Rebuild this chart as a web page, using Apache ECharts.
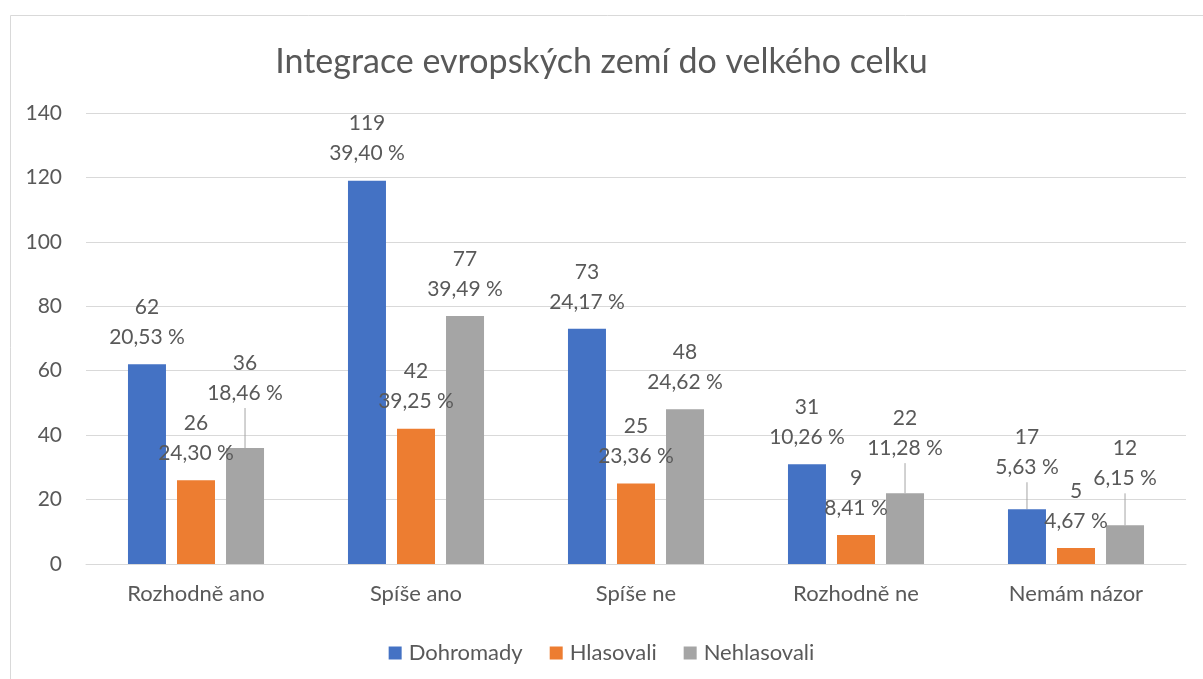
<!DOCTYPE html>
<html><head><meta charset="utf-8">
<script src="https://cdn.jsdelivr.net/npm/echarts@6/dist/echarts.min.js"></script>
<style>html,body{margin:0;padding:0;background:#fff}#c{width:1203px;height:679px}</style>
</head><body><div id="c"></div>
<script>
const categories = ['Rozhodně ano', 'Spíše ano', 'Spíše ne', 'Rozhodně ne', 'Nemám názor'];
const seriesNames = ['Dohromady', 'Hlasovali', 'Nehlasovali'];
const dohromady = [62, 119, 73, 31, 17];
const hlasovali = [26, 42, 25, 9, 5];
const nehlasovali = [36, 77, 48, 22, 12];
const dohromadyPct = [20.53, 39.40, 24.17, 10.26, 5.63];
const hlasovaliPct = [24.30, 39.25, 23.36, 8.41, 4.67];
const nehlasovaliPct = [18.46, 39.49, 24.62, 11.28, 6.15];
const yTicks = [0, 20, 40, 60, 80, 100, 120, 140];

// label lifts (styling, px) for labels that were moved with leader lines
const lifts = [[0,0,0,0,15],[0,0,0,0,0],[28,0,0,18,20]];
const colors = ['#4472C4', '#ED7D31', '#A5A5A5'];
const FONT = 'Lato';
const TXT = '#595959';

const values = [dohromady, hlasovali, nehlasovali];
const pcts = [dohromadyPct, hlasovaliPct, nehlasovaliPct];
const fmt = v => v.toFixed(2).replace('.', ',') + ' %';

const chart = echarts.init(document.getElementById('c'), null, {renderer: 'canvas'});
chart.setOption({
  animation: false,
  color: colors,
  textStyle: {fontFamily: FONT, color: TXT},
  graphic: [{type: 'rect', left: 8, top: 13, shape: {width: 1200, height: 680}, style: {fill: 'none', stroke: '#d9d9d9', lineWidth: 1}}],
  title: {text: 'Integrace evropských zemí do velkého celku', left: 'center', top: 40, padding: [5, 5, 5, 25],
    textStyle: {fontFamily: FONT, fontSize: 34, fontWeight: 'normal', color: TXT}},
  legend: {data: seriesNames, top: 637, left: 'center', itemWidth: 13, itemHeight: 13, itemGap: 27,
    icon: 'rect', textStyle: {fontFamily: FONT, fontSize: 22, color: TXT, padding: [0,0,0,2]}},
  grid: {left: 86, right: 17, top: 113, bottom: 115},
  xAxis: {type: 'category', data: categories, axisTick: {show: false},
    axisLine: {lineStyle: {color: '#d9d9d9'}},
    axisLabel: {fontFamily: FONT, fontSize: 22, color: TXT, margin: 19}},
  yAxis: {type: 'value', min: yTicks[0], max: yTicks[yTicks.length-1], interval: 20,
    axisLine: {show: false}, axisTick: {show: false},
    splitLine: {lineStyle: {color: '#d9d9d9'}},
    axisLabel: {fontFamily: FONT, fontSize: 21, color: TXT, margin: 24}},
  series: values.map((vals, si) => ({
    name: seriesNames[si], type: 'bar', barWidth: 38, barGap: '29%',
    data: vals.map((v, i) => ({value: v, labelLine: {show: lifts[si][i] > 0}})),
    label: {show: true, position: 'top', distance: 12, fontFamily: FONT, fontSize: 21, color: TXT,
      lineHeight: 30, align: 'center',
      formatter: p => p.value + '\n' + fmt(pcts[si][p.dataIndex])},
    labelLine: {show: false, lineStyle: {color: '#A5A5A5', width: 1}},
    labelLayout: p => lifts[si][p.dataIndex] ? {dy: -lifts[si][p.dataIndex]} : {}
  }))
});
</script></body></html>
